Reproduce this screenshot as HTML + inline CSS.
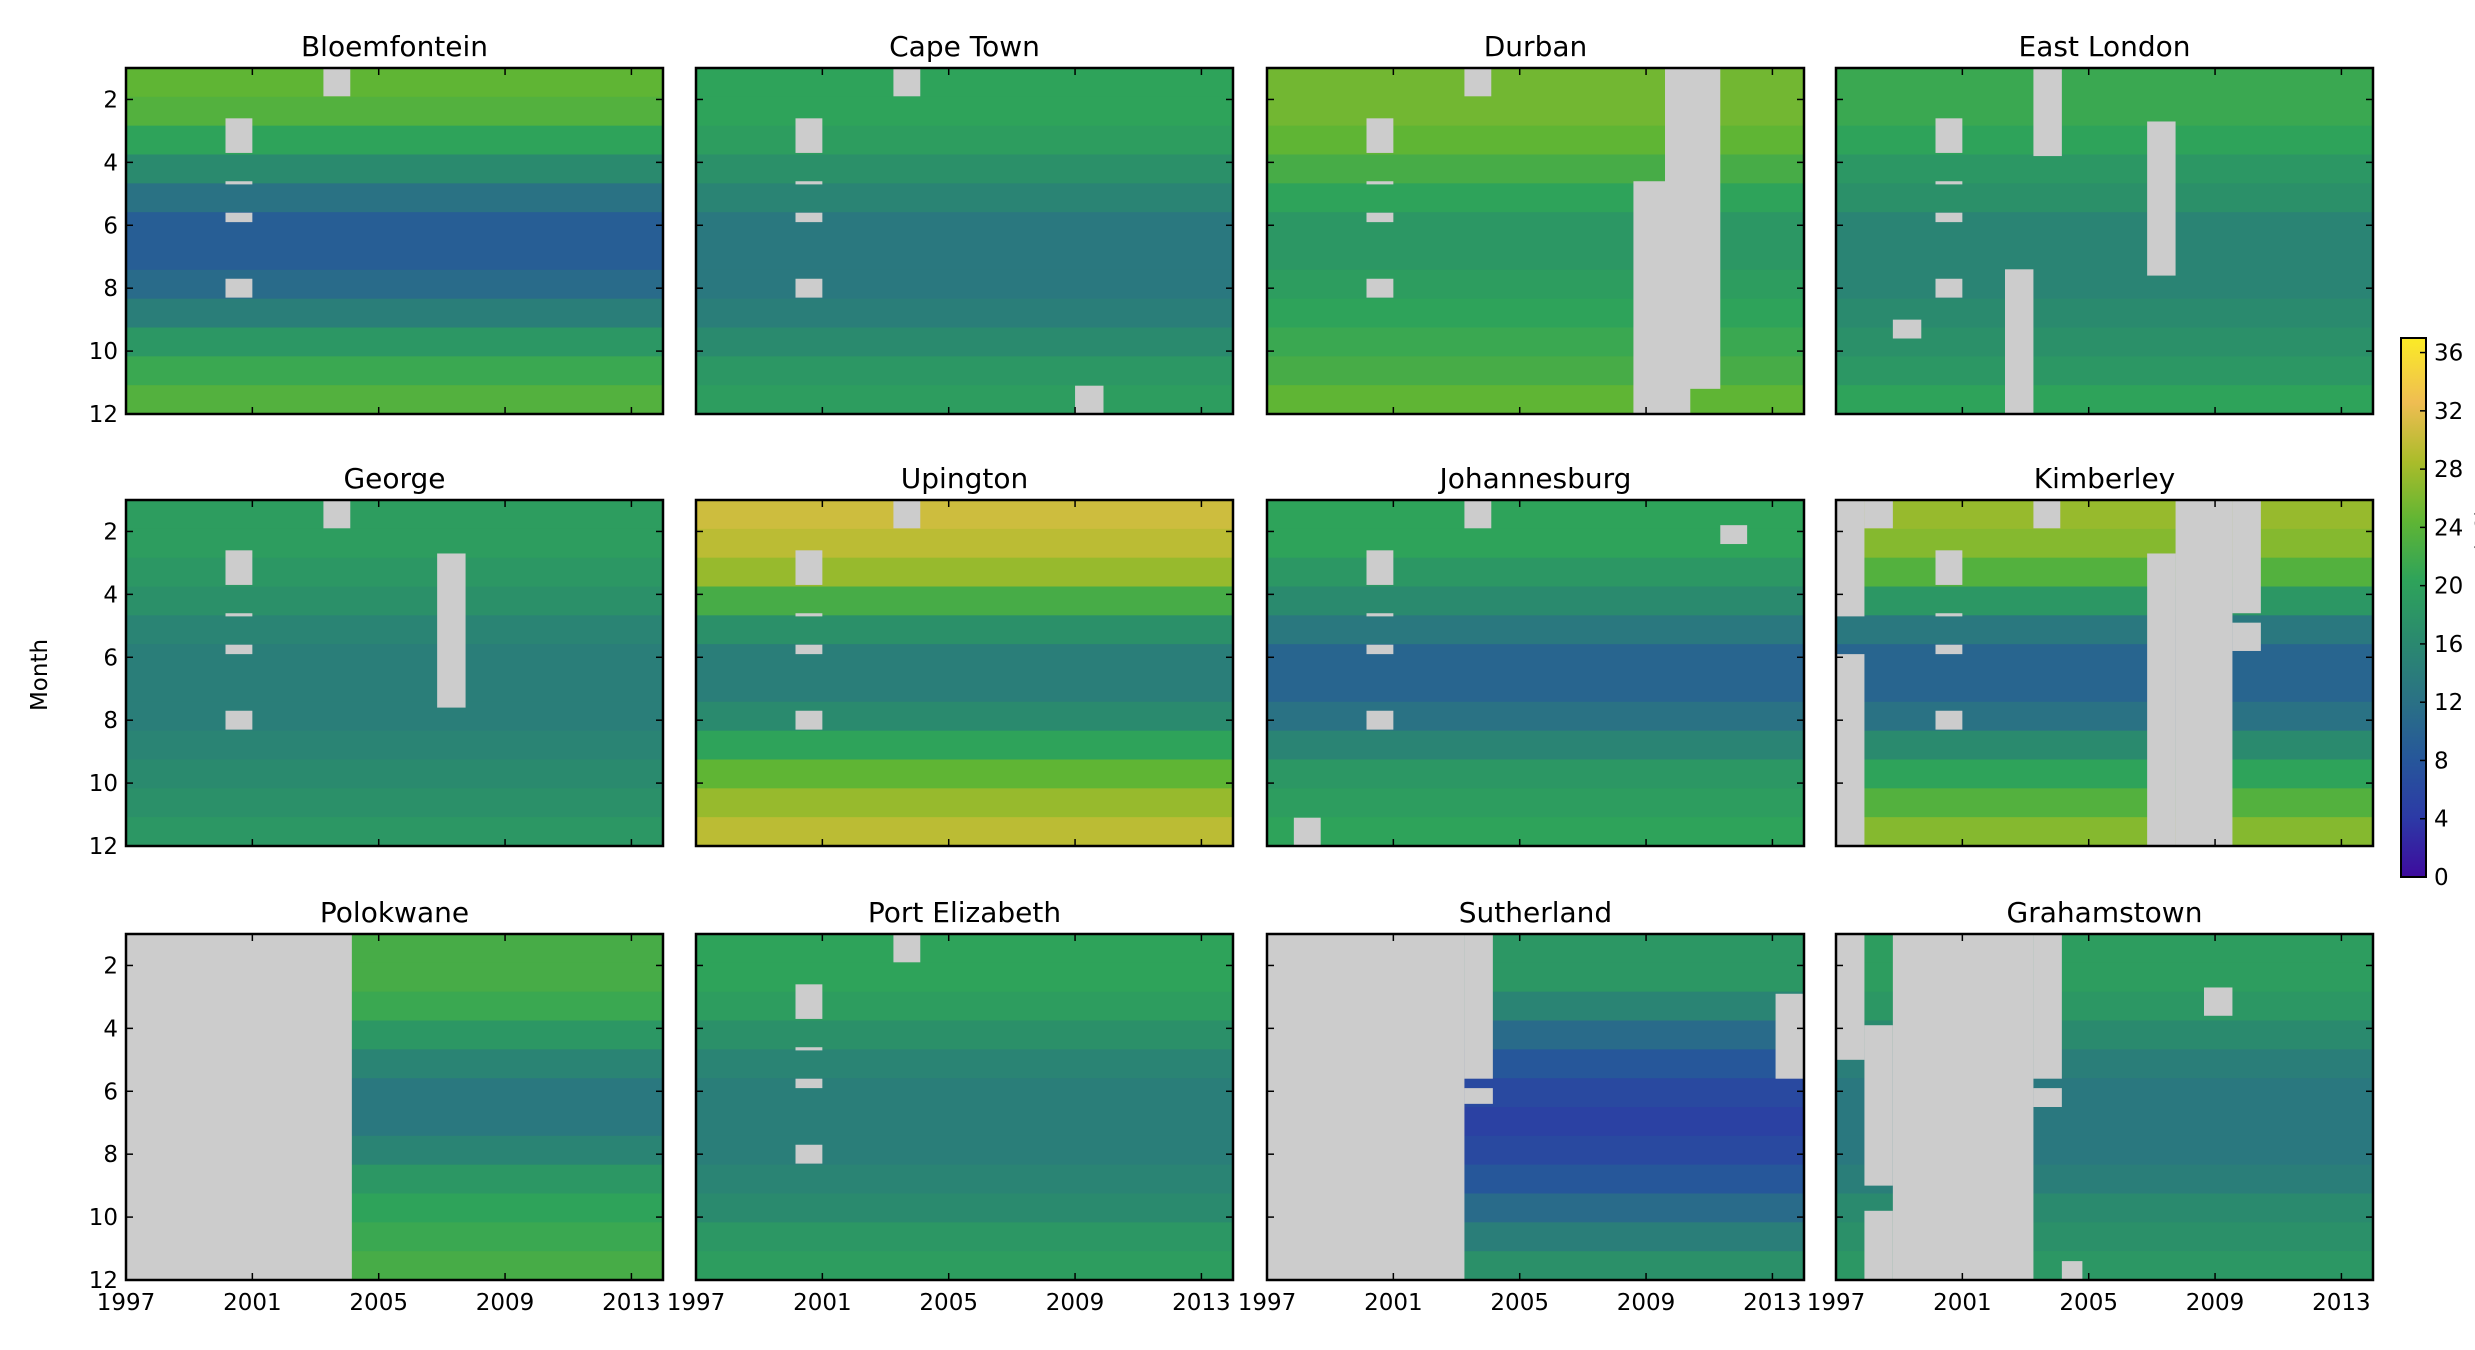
<!DOCTYPE html>
<html><head><meta charset="utf-8"><style>
html,body{margin:0;padding:0;background:#fff;overflow:hidden;}
svg{display:block;font-family:"DejaVu Sans","Liberation Sans",sans-serif;}
</style></head><body>
<svg id="fig" width="2475" height="1350" viewBox="0 0 2475 1350" xmlns="http://www.w3.org/2000/svg">
<defs>
<linearGradient id="cbgrad" x1="0" y1="1" x2="0" y2="0">
<stop offset="0" stop-color="#3e0b9e"/><stop offset="0.11" stop-color="#2c3aa6"/>
<stop offset="0.22" stop-color="#26579a"/><stop offset="0.33" stop-color="#2a7284"/>
<stop offset="0.44" stop-color="#2a8a6e"/><stop offset="0.55" stop-color="#2ea35a"/>
<stop offset="0.66" stop-color="#5fb534"/><stop offset="0.77" stop-color="#aabc2a"/>
<stop offset="0.88" stop-color="#efbd52"/><stop offset="1" stop-color="#fbeb26"/>
</linearGradient>
</defs>
<text x="47" y="675" font-size="23" text-anchor="middle" transform="rotate(-90 47 675)">Month</text>
</svg>
<script>
const stations = ["Bloemfontein","Cape Town","Durban","East London","George","Upington","Johannesburg","Kimberley","Polokwane","Port Elizabeth","Sutherland","Grahamstown"];
const months = [1,2,3,4,5,6,7,8,9,10,11,12];
const yearTicks = [1997,2001,2005,2009,2013];
const monthTicks = [2,4,6,8,10,12];
const cbTicks = [0,4,8,12,16,20,24,28,32,36];
const bloemfontein = [24,23,20,16,12,9,9,11,14,18,21,23];
const capeTown = [20,20,19,17,15,13,13,13,14,16,18,19];
const durban = [25,25,24,22,20,18,18,19,20,21,22,24];
const eastLondon = [21,21,20,18,17,15,15,15,16,17,18,20];
const george = [19,19,18,17,15,14,14,14,15,16,17,18];
const upington = [30,29,27,22,17,14,14,16,20,24,27,29];
const johannesburg = [20,20,18,16,13,10,10,12,15,18,19,20];
const kimberley = [27,26,23,18,13,10,10,12,16,20,23,26];
const polokwane = [22,22,21,18,15,13,13,15,18,20,21,22];
const portElizabeth = [20,20,19,17,15,14,14,14,15,16,18,19];
const sutherland = [18,18,15,11,8,6,5,6,8,11,14,17];
const grahamstown = [19,19,18,16,14,13,13,13,14,16,17,18];
const seriesList = [bloemfontein,capeTown,durban,eastLondon,george,upington,johannesburg,kimberley,polokwane,portElizabeth,sutherland,grahamstown];
const commonGaps = [[2000.15,2001,2.6,3.7],[2000.15,2001,4.6,4.7],[2000.15,2001,5.6,5.9],[2000.15,2001,7.7,8.3]];
const topGap = [2003.25,2004.1,1,1.9];
const gapsBloemfontein = [topGap,...commonGaps];
const gapsCapeTown = [topGap,...commonGaps,[2009.0,2009.9,11.1,12]];
const gapsDurban = [topGap,...commonGaps,[2008.6,2010.4,4.6,12],[2009.6,2011.35,1,11.2]];
const gapsEastLondon = [...commonGaps,[2003.25,2004.15,1,3.8],[2002.35,2003.25,7.4,12],[2006.85,2007.75,2.7,7.6],[1998.8,1999.7,9,9.6]];
const gapsGeorge = [topGap,...commonGaps,[2006.85,2007.75,2.7,7.6]];
const gapsUpington = [topGap,...commonGaps];
const gapsJohannesburg = [topGap,...commonGaps,[2011.35,2012.2,1.8,2.4],[1997.85,1998.7,11.1,12]];
const gapsKimberley = [topGap,...commonGaps,[1997,1997.9,1,4.7],[1997,1997.9,5.9,12],[1997.9,1998.8,1,1.9],[2006.85,2007.75,2.7,12],[2007.75,2009.55,1,12],[2009.55,2010.45,1,4.6],[2009.55,2010.45,4.9,5.8]];
const gapsPolokwane = [[1997,2004.15,1,12]];
const gapsPortElizabeth = [topGap,...commonGaps];
const gapsSutherland = [[1997,2003.25,1,12],[2003.25,2004.15,1,5.6],[2003.25,2004.15,5.9,6.4],[2013.1,2014,2.9,5.6]];
const gapsGrahamstown = [[1997,1997.9,1,5],[1997.9,1998.8,3.9,9],[1997.9,1998.8,9.8,12],[1998.8,2003.25,1,12],[2003.25,2004.15,1,5.6],[2003.25,2004.15,5.9,6.5],[2004.15,2004.8,11.4,12],[2008.65,2009.55,2.7,3.6]];
const gapList = [gapsBloemfontein,gapsCapeTown,gapsDurban,gapsEastLondon,gapsGeorge,gapsUpington,gapsJohannesburg,gapsKimberley,gapsPolokwane,gapsPortElizabeth,gapsSutherland,gapsGrahamstown];

const NS="http://www.w3.org/2000/svg";
const svg=document.getElementById('fig');
const colX=[126,696,1267,1836], rowY=[68,500,934], PW=537, PH=346;
const X0=1997, X1=2014, Y0=1, Y1=12;
const stops=[[0,[62,11,158]],[4,[44,58,166]],[8,[38,87,154]],[12,[42,114,132]],[16,[42,138,110]],[20,[46,163,90]],[24,[95,181,52]],[28,[170,188,42]],[32,[239,189,82]],[37,[251,235,38]]];
function cmap(v){
  if(v<=stops[0][0])return 'rgb('+stops[0][1]+')';
  for(let i=1;i<stops.length;i++){if(v<=stops[i][0]){const a=stops[i-1],b=stops[i],t=(v-a[0])/(b[0]-a[0]);
    return 'rgb('+a[1].map((c,k)=>Math.round(c+(b[1][k]-c)*t)).join(',')+')';}}
  return 'rgb('+stops[stops.length-1][1]+')';
}
function mk(tag,attrs,parent){const e=document.createElementNS(NS,tag);for(const k in attrs)e.setAttribute(k,attrs[k]);(parent||svg).appendChild(e);return e;}

stations.forEach((name,i)=>{
  const r=Math.floor(i/4), c=i%4, x0=colX[c], y0=rowY[r];
  const sx=v=>x0+(v-X0)/(X1-X0)*PW;
  const sy=v=>y0+(v-Y0)/(Y1-Y0)*PH;
  const g=mk('g',{});
  
  
  const vals=seriesList[i];
  months.forEach((m,mi)=>{
    const ya=Y0+(m-1)*(Y1-Y0)/12, yb=Y0+m*(Y1-Y0)/12;
    const rc=mk('rect',{x:sx(X0),y:sy(ya),width:sx(X1)-sx(X0),height:sy(yb)-sy(ya)+0.5,fill:cmap(vals[mi])},g);
    
    
  });
  gapList[i].forEach(gp=>{
    const rc=mk('rect',{x:sx(gp[0]),y:sy(gp[2]),width:sx(gp[1])-sx(gp[0]),height:sy(gp[3])-sy(gp[2]),fill:'#cccccc'},g);
    
    
  });
  const fr=mk('rect',{x:x0,y:y0,width:PW,height:PH,fill:'none',stroke:'#000','stroke-width':2.5},g);
  
  
  yearTicks.forEach(t=>{
    const x=sx(t);
    mk('line',{x1:x,y1:y0+PH,x2:x,y2:y0+PH-7,stroke:'#000','stroke-width':1.5},g);
    mk('line',{x1:x,y1:y0,x2:x,y2:y0+7,stroke:'#000','stroke-width':1.5},g);
    if(r===2){const tx=mk('text',{x:x,y:y0+PH+30,'font-size':23,'text-anchor':'middle'},g);tx.textContent=t;
      
      }
  });
  monthTicks.forEach(t=>{
    const y=sy(t);
    mk('line',{x1:x0,y1:y,x2:x0+7,y2:y,stroke:'#000','stroke-width':1.5},g);
    mk('line',{x1:x0+PW,y1:y,x2:x0+PW-7,y2:y,stroke:'#000','stroke-width':1.5},g);
    if(c===0){const tx=mk('text',{x:x0-8,y:y+8,'font-size':23,'text-anchor':'end'},g);tx.textContent=t;
      
      }
  });
  const tt=mk('text',{x:x0+PW/2,y:y0-12,'font-size':28,'text-anchor':'middle'},g);
  tt.textContent=name;
  
  
});

// colorbar
const cbX=2401, cbW=25, cbTop=338, cbBot=877, cbMax=37;
const cy=v=>cbBot-(v/cbMax)*(cbBot-cbTop);
const cb=mk('g',{});


mk('rect',{x:cbX,y:cbTop,width:cbW,height:cbBot-cbTop,fill:'url(#cbgrad)',stroke:'#000','stroke-width':2},cb);
cbTicks.forEach(t=>{
  const y=cy(t);
  mk('line',{x1:cbX+cbW,y1:y,x2:cbX+cbW-6,y2:y,stroke:'#000','stroke-width':1.5},cb);
  const tx=mk('text',{x:cbX+cbW+8,y:y+8,'font-size':23},cb);tx.textContent=t;
  
  
});
const cl=mk('text',{x:2492,y:607,'font-size':23,'text-anchor':'middle',transform:'rotate(-90 2492 607)'});
cl.textContent='Temperature (°C)';


</script>
</body></html>
